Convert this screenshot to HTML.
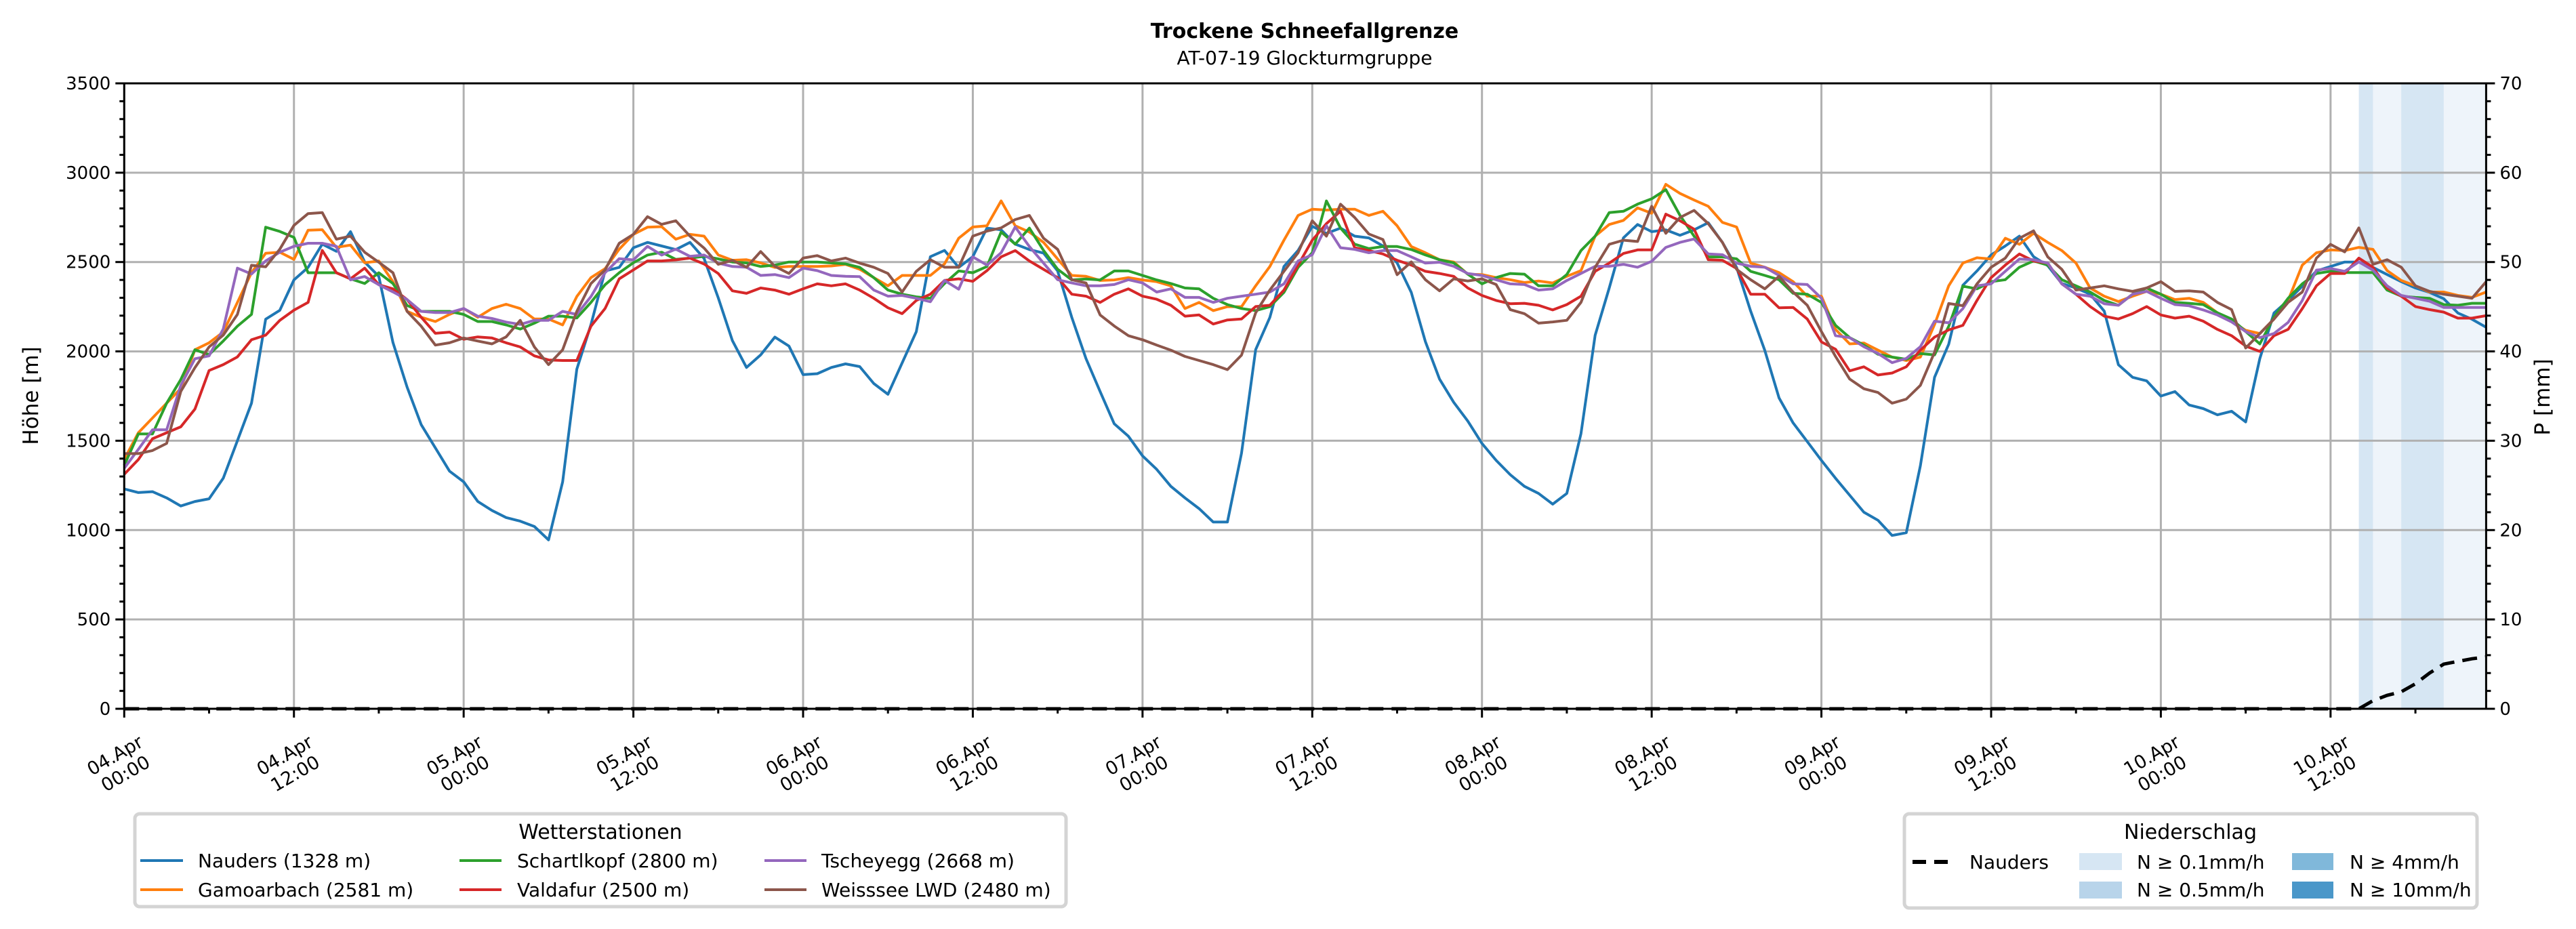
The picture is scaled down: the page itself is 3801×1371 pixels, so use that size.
<!DOCTYPE html>
<html><head><meta charset="utf-8"><title>Trockene Schneefallgrenze</title>
<style>
html,body{margin:0;padding:0;background:#fff;}
svg{display:block;font-family:"DejaVu Sans","Liberation Sans",sans-serif;}
</style></head>
<body>
<svg id="chart" width="3801" height="1371" viewBox="0 0 3801 1371" xmlns="http://www.w3.org/2000/svg">
<rect width="3801" height="1371" fill="#fff"/>
<text x="1925" y="56" text-anchor="middle" font-size="30" font-weight="bold">Trockene Schneefallgrenze</text>
<text x="1925" y="95" text-anchor="middle" font-size="28">AT-07-19 Glockturmgruppe</text>
<g id="bands"></g>
<g id="grid"></g>
<g id="series"></g>
<g id="axes"></g>
<text transform="translate(56,584) rotate(-90)" text-anchor="middle" font-size="31">Höhe [m]</text>
<text transform="translate(3762,586) rotate(-90)" text-anchor="middle" font-size="31">P [mm]</text>

<g>
<rect x="199" y="1201" width="1374" height="137" rx="7" fill="#fff" stroke="#d4d4d4" stroke-width="5"/>
<text x="886" y="1238" text-anchor="middle" font-size="30">Wetterstationen</text>
<g><line x1="207" y1="1270" x2="270" y2="1270" stroke="#1f77b4" stroke-width="4"/><text x="292" y="1280" font-size="28">Nauders (1328 m)</text></g>
<g><line x1="207" y1="1313" x2="270" y2="1313" stroke="#ff7f0e" stroke-width="4"/><text x="292" y="1323" font-size="28">Gamoarbach (2581 m)</text></g>
<g><line x1="678" y1="1270" x2="740" y2="1270" stroke="#2ca02c" stroke-width="4"/><text x="763" y="1280" font-size="28">Schartlkopf (2800 m)</text></g>
<g><line x1="678" y1="1313" x2="740" y2="1313" stroke="#d62728" stroke-width="4"/><text x="763" y="1323" font-size="28">Valdafur (2500 m)</text></g>
<g><line x1="1128" y1="1270" x2="1190" y2="1270" stroke="#9467bd" stroke-width="4"/><text x="1212" y="1280" font-size="28">Tscheyegg (2668 m)</text></g>
<g><line x1="1128" y1="1313" x2="1190" y2="1313" stroke="#8c564b" stroke-width="4"/><text x="1212" y="1323" font-size="28">Weisssee LWD (2480 m)</text></g>
</g>

<g>
<rect x="2810" y="1201" width="845" height="139" rx="7" fill="#fff" stroke="#d4d4d4" stroke-width="5"/>
<text x="3232" y="1238" text-anchor="middle" font-size="30">Niederschlag</text>
<g><line x1="2822" y1="1272" x2="2880" y2="1272" stroke="#000" stroke-width="6" stroke-dasharray="20,12"/><text x="2906" y="1282" font-size="28">Nauders</text></g>
<g><rect x="3068" y="1259" width="63" height="25" fill="#d6e6f3"/><text x="3153" y="1282" font-size="28">N ≥ 0.1mm/h</text></g>
<g><rect x="3068" y="1301" width="63" height="25" fill="#b8d4ea"/><text x="3153" y="1323" font-size="28">N ≥ 0.5mm/h</text></g>
<g><rect x="3382" y="1259" width="61" height="25" fill="#80b8da"/><text x="3467" y="1282" font-size="28">N ≥ 4mm/h</text></g>
<g><rect x="3382" y="1301" width="61" height="25" fill="#4a97c9"/><text x="3467" y="1323" font-size="28">N ≥ 10mm/h</text></g>
</g>
</svg>
<script>
var stationNames = ["Nauders","Gamoarbach","Schartlkopf","Valdafur","Tscheyegg","Weisssee LWD"];
var stationColors = ["#1f77b4","#ff7f0e","#2ca02c","#d62728","#9467bd","#8c564b"];
var nauders = [1230,1210,1215,1180,1135,1160,1175,1290,1500,1710,2180,2230,2400,2470,2600,2560,2670,2500,2420,2050,1800,1590,1460,1330,1270,1160,1110,1070,1050,1020,945,1270,1900,2150,2450,2470,2580,2610,2590,2570,2610,2520,2300,2060,1910,1980,2080,2030,1870,1875,1910,1930,1915,1820,1760,1935,2110,2530,2565,2470,2530,2690,2680,2600,2570,2550,2450,2190,1960,1775,1595,1525,1415,1340,1245,1180,1120,1045,1045,1430,2010,2190,2475,2565,2700,2660,2690,2645,2635,2590,2495,2330,2055,1845,1715,1610,1485,1390,1310,1245,1205,1145,1205,1540,2090,2355,2635,2710,2670,2680,2650,2680,2720,2610,2470,2225,2005,1740,1600,1495,1390,1290,1195,1100,1055,970,985,1360,1855,2040,2370,2450,2540,2590,2645,2530,2480,2380,2355,2320,2225,1925,1855,1835,1750,1775,1700,1680,1645,1665,1605,1960,2215,2285,2365,2450,2475,2500,2500,2470,2430,2390,2355,2330,2295,2215,2180,2135];
var gamoarbach = [1395,1545,1627,1710,1793,2009,2048,2108,2274,2440,2549,2555,2515,2678,2681,2582,2595,2496,2506,2390,2224,2191,2167,2207,2240,2191,2240,2264,2240,2181,2181,2148,2307,2413,2463,2572,2655,2695,2698,2628,2655,2645,2540,2510,2513,2495,2470,2475,2475,2475,2478,2487,2460,2413,2367,2425,2425,2425,2490,2633,2696,2703,2842,2703,2668,2610,2517,2425,2420,2397,2400,2413,2400,2390,2367,2240,2274,2228,2250,2250,2367,2475,2622,2761,2796,2791,2796,2796,2761,2784,2703,2587,2552,2513,2500,2432,2430,2413,2401,2385,2394,2383,2420,2452,2645,2710,2733,2803,2773,2935,2884,2847,2812,2722,2696,2494,2471,2441,2390,2309,2309,2123,2042,2047,2007,1968,1949,1968,2150,2367,2494,2524,2517,2633,2599,2661,2610,2564,2494,2355,2309,2279,2309,2336,2320,2290,2297,2274,2216,2169,2118,2100,2181,2285,2483,2552,2568,2564,2582,2571,2452,2397,2367,2332,2332,2313,2302,2332];
var schartlkopf = [1362,1538,1538,1710,1843,2009,1982,2058,2141,2207,2695,2671,2638,2440,2440,2440,2406,2380,2440,2380,2257,2224,2224,2224,2207,2167,2167,2148,2125,2158,2197,2197,2187,2274,2373,2440,2496,2539,2555,2515,2522,2532,2518,2500,2495,2475,2483,2500,2500,2500,2495,2490,2470,2413,2343,2320,2305,2297,2380,2450,2440,2475,2668,2600,2690,2565,2460,2400,2405,2400,2450,2450,2425,2400,2380,2355,2350,2297,2262,2240,2228,2250,2330,2470,2552,2842,2690,2600,2575,2587,2587,2570,2540,2513,2495,2432,2378,2413,2436,2432,2367,2367,2430,2564,2645,2777,2784,2824,2854,2905,2761,2645,2529,2529,2518,2448,2425,2401,2325,2320,2274,2146,2077,2035,1984,1968,1956,1988,1980,2140,2365,2350,2390,2401,2471,2506,2483,2401,2367,2332,2285,2258,2320,2355,2320,2274,2269,2262,2216,2181,2111,2042,2193,2297,2378,2436,2448,2441,2441,2441,2343,2309,2302,2297,2262,2258,2269,2269];
var valdafur = [1312,1395,1511,1545,1578,1677,1893,1926,1969,2065,2091,2174,2231,2274,2565,2440,2406,2466,2373,2350,2290,2191,2101,2108,2068,2081,2075,2048,2025,1975,1952,1949,1949,2141,2240,2406,2456,2506,2506,2512,2522,2489,2436,2339,2325,2355,2343,2320,2350,2378,2367,2378,2343,2297,2244,2211,2285,2320,2397,2406,2392,2452,2529,2564,2506,2459,2413,2320,2309,2274,2320,2350,2309,2292,2258,2197,2204,2153,2176,2181,2251,2258,2343,2483,2622,2715,2784,2580,2564,2545,2510,2483,2448,2436,2420,2355,2313,2285,2267,2269,2258,2232,2262,2309,2448,2494,2548,2568,2568,2768,2731,2684,2513,2510,2464,2320,2320,2244,2246,2181,2053,2012,1891,1914,1868,1879,1914,2007,2080,2120,2146,2285,2413,2483,2545,2506,2494,2378,2320,2251,2197,2181,2211,2251,2204,2186,2197,2169,2123,2088,2030,2000,2088,2123,2239,2367,2436,2436,2522,2471,2355,2309,2251,2234,2220,2186,2186,2200];
var tscheyegg = [1346,1452,1561,1561,1810,1959,1975,2125,2466,2433,2506,2555,2588,2605,2605,2588,2400,2419,2373,2333,2290,2224,2217,2217,2240,2197,2184,2164,2151,2174,2174,2224,2207,2307,2440,2519,2512,2588,2539,2572,2532,2539,2494,2475,2471,2425,2430,2413,2466,2452,2425,2420,2418,2343,2309,2313,2297,2278,2397,2348,2529,2483,2552,2696,2587,2494,2401,2383,2367,2367,2374,2401,2383,2332,2350,2302,2302,2274,2297,2309,2320,2332,2378,2506,2541,2703,2580,2571,2552,2564,2564,2529,2494,2499,2476,2436,2425,2401,2378,2374,2343,2350,2397,2436,2476,2476,2487,2471,2504,2582,2610,2629,2545,2541,2494,2476,2471,2425,2378,2374,2297,2088,2077,2026,1988,1937,1961,2026,2169,2160,2239,2367,2378,2448,2517,2513,2494,2378,2320,2309,2267,2258,2320,2336,2297,2262,2255,2232,2204,2165,2111,2077,2100,2162,2285,2455,2464,2448,2501,2455,2367,2313,2297,2281,2246,2246,2246,2246];
var weisssee = [1428,1428,1445,1485,1776,1909,2025,2091,2207,2482,2473,2572,2705,2771,2777,2628,2645,2555,2499,2440,2224,2141,2035,2048,2075,2058,2042,2081,2174,2025,1926,2009,2224,2380,2456,2605,2655,2754,2711,2731,2645,2578,2487,2510,2471,2559,2476,2436,2522,2536,2506,2522,2494,2471,2436,2332,2448,2513,2471,2471,2645,2673,2691,2738,2761,2633,2571,2401,2383,2204,2142,2088,2065,2035,2007,1972,1949,1926,1898,1979,2216,2343,2448,2552,2731,2645,2824,2749,2657,2626,2429,2501,2401,2339,2406,2394,2406,2374,2234,2211,2158,2165,2174,2274,2471,2599,2622,2615,2812,2661,2749,2789,2715,2610,2459,2401,2350,2420,2332,2258,2111,1972,1845,1791,1770,1710,1733,1810,1995,2268,2256,2378,2471,2522,2633,2675,2529,2459,2343,2355,2367,2350,2336,2355,2390,2336,2339,2332,2274,2234,2019,2100,2181,2274,2332,2522,2599,2557,2691,2487,2513,2471,2367,2336,2320,2309,2297,2390];
var precipLevelHours = [158,159,160,161,162,163,164,165,166];
var precipLevels = [2,1,1,2,2,2,1,1,1];
var precipCumHours = [0,158,159,160,161,162,163,164,165,166,167];
var precipCum = [0,0,0.9,1.5,1.9,2.8,4.0,5.0,5.3,5.6,5.8];
var yTicks = [0,500,1000,1500,2000,2500,3000,3500];
var y2Ticks = [0,10,20,30,40,50,60,70];
var xTickLabels = [["04.Apr","00:00"],["04.Apr","12:00"],["05.Apr","00:00"],["05.Apr","12:00"],["06.Apr","00:00"],["06.Apr","12:00"],["07.Apr","00:00"],["07.Apr","12:00"],["08.Apr","00:00"],["08.Apr","12:00"],["09.Apr","00:00"],["09.Apr","12:00"],["10.Apr","00:00"],["10.Apr","12:00"]];

var NS = "http://www.w3.org/2000/svg";
var L = 183.3, R = 3668.4, T = 123, B = 1046;
var HMAX = 167;
function xs(h){ return L + h * (R - L) / HMAX; }
function ys(v){ return B - v / 3500 * (B - T); }
function y2s(v){ return B - v / 70 * (B - T); }
function mk(tag, attrs, parent){ var e = document.createElementNS(NS, tag); for (var k in attrs) e.setAttribute(k, attrs[k]); parent.appendChild(e); return e; }

var bands = document.getElementById('bands');
var bandColors = ["#ffffff","#eef4fa","#d6e6f3"];
for (var i = 0; i < precipLevelHours.length; i++) {
  var h = precipLevelHours[i];
  var r = mk('rect', {x: xs(h), y: T, width: xs(h+1) - xs(h) + 0.5, height: B - T, fill: bandColors[precipLevels[i]]}, bands);
  
  
}

var grid = document.getElementById('grid');
for (var i = 0; i < yTicks.length; i++) {
  var g = mk('line', {x1: L, x2: R, y1: ys(yTicks[i]), y2: ys(yTicks[i]), stroke: '#b0b0b0', 'stroke-width': 3}, grid);
  
  
}
for (var i = 0; i < xTickLabels.length; i++) {
  var g = mk('line', {x1: xs(i*12), x2: xs(i*12), y1: T, y2: B, stroke: '#b0b0b0', 'stroke-width': 3}, grid);
  
  
}

var series = document.getElementById('series');
var allSeries = [nauders, gamoarbach, schartlkopf, valdafur, tscheyegg, weisssee];
for (var s = 0; s < allSeries.length; s++) {
  var d = '';
  for (var i = 0; i < allSeries[s].length; i++) d += (i ? 'L' : 'M') + xs(i).toFixed(1) + ' ' + ys(allSeries[s][i]).toFixed(1);
  var p = mk('path', {d: d, fill: 'none', stroke: stationColors[s], 'stroke-width': 4, 'stroke-linejoin': 'round'}, series);
  
  
}
var pd = '';
for (var i = 0; i < precipCumHours.length; i++) pd += (i ? 'L' : 'M') + xs(precipCumHours[i]).toFixed(1) + ' ' + y2s(precipCum[i]).toFixed(1);
var pl = mk('path', {d: pd, fill: 'none', stroke: '#000', 'stroke-width': 5, 'stroke-dasharray': '22,12'}, series);



var axes = document.getElementById('axes');
var fr = mk('rect', {x: L, y: T, width: R - L, height: B - T, fill: 'none', stroke: '#000', 'stroke-width': 3}, axes);


for (var v = 0; v <= 3500; v += 100) {
  var major = (v % 500 === 0);
  mk('line', {x1: L, x2: L - (major ? 13 : 7), y1: ys(v), y2: ys(v), stroke: '#000', 'stroke-width': 3}, axes);
}
for (var i = 0; i < yTicks.length; i++) {
  var t = mk('text', {x: L - 20, y: ys(yTicks[i]) + 9, 'text-anchor': 'end', 'font-size': 26}, axes);
  t.textContent = yTicks[i];
  
  
}
for (var v = 0; v <= 70; v += 2) {
  var major = (v % 10 === 0);
  mk('line', {x1: R, x2: R + (major ? 13 : 7), y1: y2s(v), y2: y2s(v), stroke: '#000', 'stroke-width': 3}, axes);
}
for (var i = 0; i < y2Ticks.length; i++) {
  var t = mk('text', {x: R + 20, y: y2s(y2Ticks[i]) + 9, 'text-anchor': 'start', 'font-size': 26}, axes);
  t.textContent = y2Ticks[i];
  
  
}
for (var h = 0; h <= HMAX; h += 6) {
  var major = (h % 12 === 0);
  mk('line', {x1: xs(h), x2: xs(h), y1: B, y2: B + (major ? 13 : 7), stroke: '#000', 'stroke-width': 3}, axes);
}
for (var i = 0; i < xTickLabels.length; i++) {
  var cx = xs(i*12) - 6, cy = 1128;
  var t = mk('text', {transform: 'translate(' + cx + ',' + cy + ') rotate(-30)', 'text-anchor': 'middle', 'font-size': 27}, axes);
  
  
  var a = mk('tspan', {x: 0, y: -6}, t); a.textContent = xTickLabels[i][0];
  var b = mk('tspan', {x: 0, y: 25}, t); b.textContent = xTickLabels[i][1];
}
</script>
</body></html>
